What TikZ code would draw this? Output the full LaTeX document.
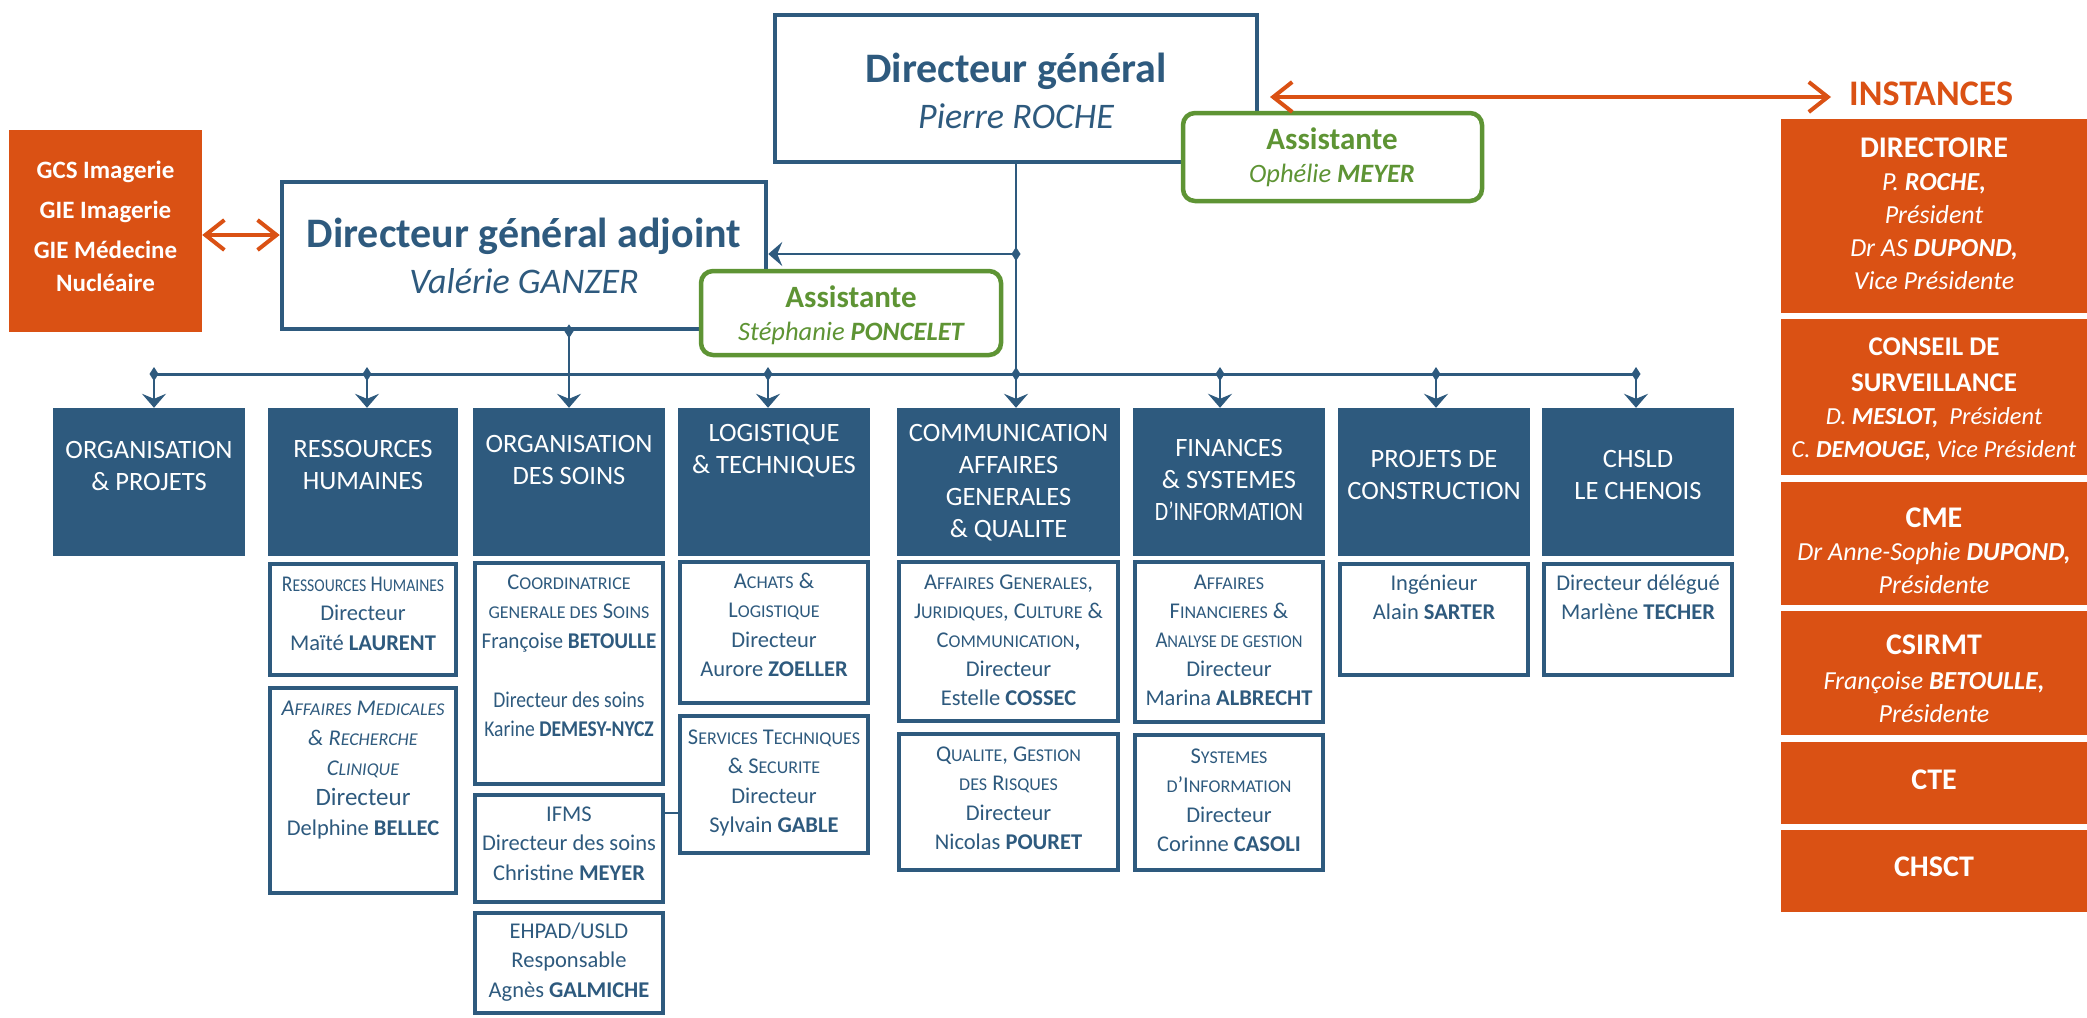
\documentclass[tikz,border=0pt]{standalone}
\usepackage{fontspec}
\setmainfont{Carlito}
\usetikzlibrary{arrows.meta,fit}
\definecolor{dblue}{RGB}{46,90,126}
\definecolor{agreen}{RGB}{94,148,52}
\definecolor{orng}{RGB}{218,81,20}
\newcommand\smk[1]{{\fontsize{18}{29.5}\selectfont #1}}
\newcommand\fstr{\rule{0pt}{1em}}
\newcommand\cnd[2]{\scalebox{#1}[1]{#2}}
\newcommand\ohd[1]{{\upshape\bfseries\fontsize{30}{33}\selectfont #1}}
\newcommand\ohs[1]{{\upshape\bfseries\fontsize{27}{33}\selectfont #1}}
\newcommand\dmd[1]{\fill[dblue,shift={(#1)}] (0,-7) -- (4.5,0) -- (0,7) -- (-4.5,0) -- cycle;}
\begin{document}
\begin{tikzpicture}[x=1pt,y=-1pt,
  wbox/.style={draw=dblue,line width=4.5pt,fill=white,inner sep=0pt},
  agbox/.style={draw=agreen,line width=4.5pt,fill=white,inner sep=0pt,rounded corners=12pt},
  deptbox/.style={fill=dblue,inner sep=0pt},
  obox/.style={fill=orng,inner sep=0pt},
  txt/.style={inner sep=0pt,anchor=north,align=center},
  dtxt/.style={txt,text=white,font=\fontsize{26.5}{32}\selectfont},
  stxt/.style={txt,text=dblue,font=\fontsize{22.5}{29.5}\selectfont},
  otxt/.style={txt,text=white,font=\fontsize{26}{33}\selectfont\itshape},
  conn/.style={draw=dblue,line width=2.2pt},
  arrowtip/.style={-{Stealth[length=14pt,width=24pt,inset=5pt]}},
  oarr/.style={draw=orng,line width=4pt,{Straight Barb[length=19pt,width=30pt]}-{Straight Barb[length=19pt,width=30pt]}},
]
\useasboundingbox (0,0) rectangle (2087,1017);

% ---- top level boxes
\node[wbox,fit={(775,15) (1257,162)}] (dg) {};
\node[wbox,fit={(282,182) (766,329)}] (dga) {};
\node[agbox,fit={(1183,113) (1482,201)}] (asdg) {};
\node[agbox,fit={(701,271) (1001,355)}] (asdga) {};
\node[obox,fit={(9,130) (202,332)}] (gl) {};

\node[txt,text=dblue,font=\fontsize{42}{50}\selectfont\bfseries] (dgT) at (1016,40) {\fstr Directeur général};
\node[txt,text=dblue,font=\fontsize{36}{40}\selectfont\itshape] (dgN) at (1016,92) {\fstr Pierre ROCHE};
\node[txt,text=dblue,font=\fontsize{42}{50}\selectfont\bfseries] (dgaT) at (524,205) {\fstr Directeur général adjoint};
\node[txt,text=dblue,font=\fontsize{36}{40}\selectfont\itshape] (dgaN) at (524,257) {\fstr Valérie GANZER};
\node[txt,text=agreen,font=\fontsize{31}{36}\selectfont\bfseries] (asdgT) at (1332,118) {\fstr Assistante};
\node[txt,text=agreen,font=\fontsize{26.5}{30}\selectfont\itshape] (asdgN) at (1332,155.5) {\fstr Ophélie \textbf{MEYER}};
\node[txt,text=agreen,font=\fontsize{31}{36}\selectfont\bfseries] (asdgaT) at (851,276) {\fstr Assistante};
\node[txt,text=agreen,font=\fontsize{26.5}{30}\selectfont\itshape] (asdgaN) at (851,313.5) {\fstr Stéphanie \textbf{PONCELET}};
\node[txt,text=white,font=\fontsize{25}{33}\selectfont\bfseries] (glT) at (105.5,153) {\fstr GCS Imagerie\\[7pt] GIE Imagerie\\[7pt] GIE Médecine\\ Nucléaire};
\node[inner sep=0pt,anchor=north west,text=orng,font=\fontsize{36}{40}\selectfont\bfseries] (inst) at (1849,69) {\fstr INSTANCES};

% ---- instances column
\node[obox,fit={(1781,119) (2087,313)}] (dir) {};
\node[obox,fit={(1781,319) (2087,475)}] (cons) {};
\node[obox,fit={(1781,482) (2087,605)}] (cme) {};
\node[obox,fit={(1781,611) (2087,735)}] (csi) {};
\node[obox,fit={(1781,742) (2087,824)}] (cte) {};
\node[obox,fit={(1781,830) (2087,912)}] (chs) {};
\node[otxt] (dirT) at (1934,131) {\fstr\ohd{DIRECTOIRE}\\ P. \textbf{ROCHE,}\\ Président\\ Dr AS \textbf{DUPOND,}\\ Vice Présidente};
\node[otxt,font=\fontsize{24.5}{33}\selectfont\itshape] (consT) at (1934,330.5) {\fstr\ohs{CONSEIL DE}\\[3pt] \ohs{SURVEILLANCE}\\ D. \textbf{MESLOT,}\ \ Président\\ C. \textbf{DEMOUGE,} Vice Président};
\node[otxt] (cmeT) at (1934,501) {\fstr\ohd{CME}\\ Dr Anne-Sophie \textbf{DUPOND,}\\ Présidente};
\node[otxt] (csiT) at (1934,628) {\fstr\ohd{CSIRMT}\\[2pt] Françoise \textbf{BETOULLE,}\\ Présidente};
\node[otxt] (cteT) at (1934,763) {\fstr\ohd{CTE}};
\node[otxt] (chsT) at (1934,850) {\fstr\ohd{CHSCT}};

% ---- department boxes
\node[deptbox,fit={(53,408) (245,556)}] (d1) {};
\node[deptbox,fit={(268,408) (458,556)}] (d2) {};
\node[deptbox,fit={(473,408) (665,556)}] (d3) {};
\node[deptbox,fit={(678,408) (870,556)}] (d4) {};
\node[deptbox,fit={(897,408) (1120,556)}] (d5) {};
\node[deptbox,fit={(1133,408) (1325,556)}] (d6) {};
\node[deptbox,fit={(1338,408) (1530,556)}] (d7) {};
\node[deptbox,fit={(1542,408) (1734,556)}] (d8) {};
\node[dtxt] (d1T) at (149,431.5) {\fstr ORGANISATION\\ \& PROJETS};
\node[dtxt] (d2T) at (363,430.5) {\fstr RESSOURCES\\ HUMAINES};
\node[dtxt] (d3T) at (569,425.5) {\fstr ORGANISATION\\ DES SOINS};
\node[dtxt] (d4T) at (774,414.5) {\fstr LOGISTIQUE\\ \& TECHNIQUES};
\node[dtxt] (d5T) at (1008.5,414.5) {\fstr COMMUNICATION\\ AFFAIRES\\ GENERALES\\ \& QUALITE};
\node[dtxt] (d6T) at (1229,429.5) {\fstr FINANCES\\ \& SYSTEMES\\ \cnd{0.82}{D’INFORMATION}};
\node[dtxt] (d7T) at (1434,440.5) {\fstr PROJETS DE\\ CONSTRUCTION};
\node[dtxt] (d8T) at (1638,440.5) {\fstr CHSLD\\ LE CHENOIS};

% ---- sub boxes
\node[wbox,fit={(270,564) (456,675)}] (rh1) {};
\node[wbox,fit={(270,688) (456,893)}] (rh2) {};
\node[wbox,fit={(475,563) (663,784)}] (s1) {};
\node[wbox,fit={(475,795) (663,902)}] (s2) {};
\node[wbox,fit={(475,913) (663,1013)}] (s3) {};
\node[wbox,fit={(680,562) (868,703)}] (l1) {};
\node[wbox,fit={(680,716) (868,853)}] (l2) {};
\node[wbox,fit={(899,562) (1118,721)}] (c1) {};
\node[wbox,fit={(899,734) (1118,870)}] (c2) {};
\node[wbox,fit={(1135,562) (1323,722)}] (f1) {};
\node[wbox,fit={(1135,735) (1323,870)}] (f2) {};
\node[wbox,fit={(1340,564) (1528,675)}] (p1) {};
\node[wbox,fit={(1544,564) (1732,675)}] (ch1) {};

\node[stxt] (rh1T) at (363,568.5) {\fstr\cnd{0.87}{R\smk{ESSOURCES} H\smk{UMAINES}}\\ Directeur\\ Maïté \textbf{LAURENT}};
\node[stxt,font=\fontsize{22.5}{30}\selectfont] (rh2T) at (363,692.5) {\fstr\textit{A\smk{FFAIRES} M\smk{EDICALES}}\\ \textit{\& R\smk{ECHERCHE}}\\ \textit{C\smk{LINIQUE}}\\ {\fontsize{25}{30}\selectfont Directeur}\\ Delphine \textbf{BELLEC}};
\node[stxt] (s1T) at (569,566.5) {\fstr C\smk{OORDINATRICE}\\ \smk{GENERALE DES} S\smk{OINS}\\ \cnd{0.94}{Françoise \textbf{BETOULLE}}\\[29.5pt] \cnd{0.87}{Directeur des soins}\\ \cnd{0.87}{Karine \textbf{DEMESY-NYCZ}}};
\node[stxt] (s2T) at (569,798.5) {\fstr IFMS\\ Directeur des soins\\ Christine \textbf{MEYER}};
\node[stxt] (s3T) at (569,915.5) {\fstr EHPAD/USLD\\ Responsable\\ Agnès \textbf{GALMICHE}};
\node[stxt] (l1T) at (774,565.5) {\fstr A\smk{CHATS} \&\\ L\smk{OGISTIQUE}\\ Directeur\\ Aurore \textbf{ZOELLER}};
\node[stxt] (l2T) at (774,721.5) {\fstr S\smk{ERVICES} T\smk{ECHNIQUES}\\ \& S\smk{ECURITE}\\ Directeur\\ Sylvain \textbf{GABLE}};
\node[stxt,font=\fontsize{22.5}{29}\selectfont] (c1T) at (1008.5,566.5) {\fstr A\smk{FFAIRES} G\smk{ENERALES},\\ J\smk{URIDIQUES}, C\smk{ULTURE} \&\\ C\smk{OMMUNICATION}\textbf{,}\\ Directeur\\ Estelle \textbf{COSSEC}};
\node[stxt] (c2T) at (1008.5,738.5) {\fstr Q\smk{UALITE}, G\smk{ESTION}\\ \smk{DES} R\smk{ISQUES}\\ Directeur\\ Nicolas \textbf{POURET}};
\node[stxt,font=\fontsize{22.5}{29}\selectfont] (f1T) at (1229,566.5) {\fstr A\smk{FFAIRES}\\ F\smk{INANCIERES} \&\\ \cnd{0.92}{A\smk{NALYSE DE GESTION}}\\ Directeur\\ Marina \textbf{ALBRECHT}};
\node[stxt] (f2T) at (1229,740.5) {\fstr S\smk{YSTEMES}\\ \smk{D}’I\smk{NFORMATION}\\ Directeur\\ Corinne \textbf{CASOLI}};
\node[stxt] (p1T) at (1434,567.5) {\fstr Ingénieur\\ Alain \textbf{SARTER}};
\node[stxt] (ch1T) at (1638,567.5) {\fstr Directeur délégué\\ Marlène \textbf{TECHER}};

% ---- connectors
\coordinate (bp1) at (154,374);
\coordinate (bp2) at (367,374);
\coordinate (bp4) at (768,374);
\coordinate (bp6) at (1220,374);
\coordinate (bp7) at (1436,374);
\coordinate (bp8) at (1636,374);
\coordinate (bp5) at (dg.south |- bp1);
\coordinate (br) at (dg.south |- 0,254);
\coordinate (dgaout) at (d3.north |- dga.south);

\draw[conn,line width=3pt] (bp1) -- (bp8);
\draw[conn,arrowtip] (bp1) -- (bp1 |- d1.north);
\draw[conn,arrowtip] (bp2) -- (bp2 |- d2.north);
\draw[conn,arrowtip] (bp4) -- (bp4 |- d4.north);
\draw[conn,arrowtip] (bp6) -- (bp6 |- d6.north);
\draw[conn,arrowtip] (bp7) -- (bp7 |- d7.north);
\draw[conn,arrowtip] (bp8) -- (bp8 |- d8.north);
\draw[conn,arrowtip] (dg.south) -- (dg.south |- d5.north);
\draw[conn,arrowtip] (br) -- (br -| dga.east);
\draw[conn,arrowtip] (dgaout) -- (d3.north);
\draw[conn] (s2.east |- 0,813) -- (l2.west |- 0,813);
\dmd{bp1}\dmd{bp2}\dmd{bp4}\dmd{bp5}\dmd{bp6}\dmd{bp7}\dmd{bp8}\dmd{br}\dmd{dgaout}

\coordinate (ia) at (1270,97);
\coordinate (ib) at (1831,97);
\draw[oarr] (ia) -- (ib);
\draw[oarr] (gl.east |- 0,235) -- (dga.west |- 0,235);
\end{tikzpicture}
\end{document}
